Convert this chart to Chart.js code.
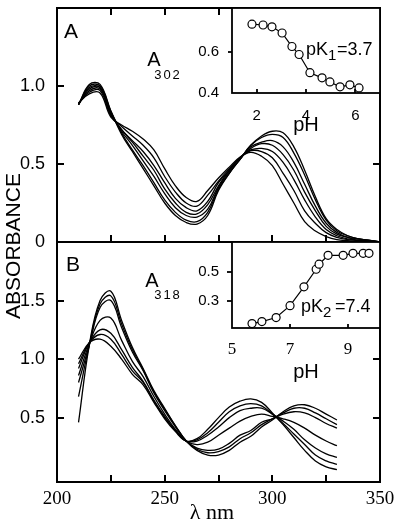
<!DOCTYPE html>
<html>
<head>
<meta charset="utf-8">
<script src="https://cdn.jsdelivr.net/npm/chart.js@4.4.1/dist/chart.umd.min.js"></script>
<style>
  html, body { margin: 0; padding: 0; background: #fff; }
  #wrap { position: relative; width: 400px; height: 526px; overflow: hidden; }
  canvas { position: absolute; }
</style>
</head>
<body>
<div id="wrap">
  <canvas id="mainA" width="400" height="526" style="left:0;top:0"></canvas>
  <canvas id="mainB" width="400" height="526" style="left:0;top:0"></canvas>
  <canvas id="insetA" width="200" height="145" style="left:190px;top:0"></canvas>
  <canvas id="insetB" width="200" height="150" style="left:190px;top:234px"></canvas>
</div>
<script>
// wavelengths (nm)
const wlA = [210,215,220,225,230,235,240,245,250,255,260,265,270,275,280,285,290,295,300,305,310,315,320,325,330,335,340,345,350];
const wlB = [210,215,220,225,230,235,240,245,250,255,260,265,270,275,280,285,290,295,300,305,310,315,320,325,330];

// panel A spectra, low pH -> high pH
const absA1 = [0.88,1.01,1.01,0.84,0.69,0.58,0.47,0.36,0.25,0.17,0.125,0.115,0.17,0.33,0.44,0.53,0.62,0.68,0.71,0.70,0.61,0.46,0.29,0.15,0.08,0.04,0.02,0.01,0.00];
const absA2 = [0.88,1.00,1.00,0.84,0.70,0.59,0.49,0.38,0.27,0.19,0.14,0.13,0.19,0.34,0.44,0.53,0.62,0.67,0.69,0.67,0.57,0.43,0.27,0.14,0.07,0.04,0.02,0.01,0.00];
const absA3 = [0.88,0.99,0.99,0.83,0.71,0.62,0.52,0.42,0.31,0.22,0.17,0.16,0.21,0.35,0.45,0.53,0.61,0.64,0.65,0.61,0.51,0.37,0.23,0.12,0.06,0.03,0.02,0.01,0.00];
const absA4 = [0.88,0.98,0.99,0.82,0.72,0.64,0.55,0.46,0.34,0.25,0.19,0.18,0.24,0.36,0.46,0.54,0.60,0.63,0.62,0.56,0.46,0.32,0.20,0.10,0.05,0.03,0.01,0.01,0.00];
const absA5 = [0.89,0.97,0.98,0.82,0.72,0.65,0.58,0.49,0.38,0.28,0.22,0.20,0.26,0.38,0.46,0.54,0.59,0.60,0.58,0.51,0.40,0.27,0.16,0.08,0.04,0.02,0.01,0.00,0.00];
const absA6 = [0.89,0.96,0.97,0.81,0.74,0.68,0.62,0.54,0.42,0.32,0.25,0.23,0.30,0.39,0.47,0.54,0.585,0.58,0.54,0.44,0.33,0.20,0.12,0.06,0.03,0.015,0.01,0.00,0.00];
const absA7 = [0.89,0.95,0.955,0.80,0.75,0.71,0.66,0.59,0.47,0.36,0.285,0.26,0.33,0.41,0.48,0.545,0.575,0.55,0.49,0.37,0.25,0.13,0.07,0.035,0.015,0.008,0.004,0.00,0.00];

// panel B spectra, low pH -> high pH
const absB1 = [1.00,1.14,1.17,1.11,1.00,0.87,0.78,0.63,0.49,0.38,0.30,0.32,0.40,0.50,0.59,0.64,0.66,0.63,0.54,0.44,0.33,0.22,0.13,0.08,0.055];
const absB2 = [0.96,1.14,1.21,1.17,1.04,0.90,0.80,0.64,0.50,0.39,0.30,0.31,0.37,0.46,0.55,0.60,0.62,0.60,0.53,0.45,0.36,0.27,0.18,0.13,0.10];
const absB3 = [0.92,1.14,1.25,1.22,1.08,0.93,0.81,0.65,0.51,0.39,0.30,0.30,0.35,0.42,0.50,0.56,0.58,0.58,0.53,0.47,0.40,0.31,0.24,0.19,0.16];
const absB4 = [0.86,1.13,1.33,1.35,1.16,0.98,0.85,0.68,0.53,0.40,0.30,0.27,0.29,0.35,0.41,0.47,0.51,0.53,0.51,0.49,0.46,0.41,0.35,0.30,0.26];
const absB5 = [0.80,1.12,1.44,1.50,1.27,1.06,0.90,0.71,0.56,0.42,0.30,0.24,0.22,0.23,0.28,0.35,0.39,0.46,0.49,0.53,0.55,0.54,0.50,0.45,0.41];
const absB6 = [0.68,1.12,1.47,1.54,1.30,1.08,0.91,0.72,0.57,0.43,0.30,0.23,0.20,0.21,0.25,0.32,0.37,0.44,0.49,0.54,0.58,0.58,0.54,0.49,0.44];
const absB7 = [0.46,1.12,1.50,1.58,1.33,1.10,0.92,0.73,0.58,0.43,0.30,0.22,0.18,0.18,0.22,0.29,0.34,0.42,0.48,0.55,0.60,0.61,0.58,0.53,0.48];

// titration insets
const phA  = [1.81,2.26,2.62,3.03,3.43,3.72,4.16,4.65,4.97,5.38,5.78,6.15];
const a302 = [0.736,0.732,0.723,0.693,0.627,0.588,0.499,0.474,0.454,0.430,0.440,0.425];
const phB  = [5.69,6.03,6.52,7.00,7.48,7.90,8.00,8.31,8.83,9.17,9.52,9.72];
const a318 = [0.141,0.155,0.183,0.266,0.397,0.520,0.555,0.617,0.617,0.631,0.631,0.631];

// tick values
const xLabelTicks = [200,250,300,350];
const xMarkTicks  = [225,250,275,300,325];
const yTicksA = [0,0.5,1.0];
const yTicksB = [0.5,1.0,1.5];
const insetATicksX = [2,4,6];
const insetATicksY = [0.4,0.6];
const insetBTicksX = [5,7,9];
const insetBTicksY = [0.3,0.5];

const SANS = 'Liberation Sans';
const SERIF = 'Liberation Serif';
Chart.defaults.font.family = SANS;
Chart.defaults.color = '#000';

// frame, inward/outward tick marks and free text
const framePlugin = {
  id: 'frame',
  beforeDraw(chart, args, o) {
    if (!o.fill) return;
    const a = chart.chartArea, ctx = chart.ctx;
    ctx.save();
    ctx.fillStyle = '#fff';
    ctx.fillRect(a.left, a.top, a.width, a.height);
    ctx.restore();
  },
  afterDraw(chart, args, o) {
    const ctx = chart.ctx, a = chart.chartArea;
    ctx.save();
    ctx.strokeStyle = '#000';
    ctx.lineWidth = o.lw || 2;
    (o.marks || []).forEach(([id, side, vals, len]) => {
      const s = chart.scales[id];
      vals.forEach(v => {
        const p = Math.round(s.getPixelForValue(v));
        ctx.beginPath();
        if (side === 'left')   { ctx.moveTo(a.left, p);  ctx.lineTo(a.left + len, p); }
        if (side === 'right')  { ctx.moveTo(a.right, p); ctx.lineTo(a.right - len, p); }
        if (side === 'top')    { ctx.moveTo(p, a.top);    ctx.lineTo(p, a.top + len); }
        if (side === 'bottom') { ctx.moveTo(p, a.bottom); ctx.lineTo(p, a.bottom - len); }
        ctx.stroke();
      });
    });
    ctx.strokeRect(a.left, a.top, a.width, a.height);
    ctx.fillStyle = '#000';
    (o.texts || []).forEach(t => {
      ctx.save();
      ctx.font = (t.size || 18) + 'px "' + (t.family || SANS) + '"';
      ctx.textAlign = t.align || 'center';
      ctx.textBaseline = t.base || 'middle';
      if (t.spacing) ctx.letterSpacing = t.spacing;
      ctx.translate(t.x, t.y);
      if (t.rot) ctx.rotate(t.rot);
      ctx.fillText(t.text, 0, 0);
      ctx.restore();
    });
    ctx.restore();
  }
};

function spectra(wl, list) {
  return list.map(arr => ({
    data: wl.map((x, i) => ({ x: x, y: arr[i] })),
    borderColor: '#000',
    borderWidth: 1.3,
    pointRadius: 0,
    tension: 0.4,
    fill: false
  }));
}

function fixTicks(vals) {
  return s => { s.ticks = vals.map(v => ({ value: v })); };
}

const baseOpts = {
  responsive: false,
  animation: false,
  events: [],
};

// panel A
new Chart(document.getElementById('mainA'), {
  type: 'line',
  data: { datasets: spectra(wlA, [absA1, absA2, absA3, absA4, absA5, absA6, absA7]) },
  options: Object.assign({}, baseOpts, {
    layout: { padding: { left: 0, top: 8, right: 20, bottom: 284 } },
    scales: {
      x: { type: 'linear', min: 200, max: 350, display: false },
      y: {
        min: 0, max: 1.5,
        afterBuildTicks: fixTicks(yTicksA),
        afterFit: s => { s.width = 57; s.paddingTop = 0; s.paddingBottom = 0; },
        grid: { display: false }, border: { display: false },
        ticks: { font: { size: 18 }, padding: 4, callback: v => v === 0 ? '0' : v.toFixed(1) }
      }
    },
    plugins: {
      legend: { display: false }, tooltip: { enabled: false },
      frame: {
        lw: 2,
        marks: [['y', 'left', [0.5, 1.0], 7], ['y', 'right', [0.5, 1.0], 7],
                ['x', 'top', xMarkTicks, 7], ['x', 'bottom', xMarkTicks, 7]],
        texts: [
          { text: 'ABSORBANCE', x: 14, y: 246, size: 21, rot: -Math.PI / 2 },
          { text: 'A', x: 71, y: 32, size: 21 },
          { text: 'A', x: 154, y: 60, size: 20 },
          { text: '302', x: 168, y: 75, size: 13, spacing: '2px' }
        ]
      }
    }
  }),
  plugins: [framePlugin]
});

// panel B
new Chart(document.getElementById('mainB'), {
  type: 'line',
  data: { datasets: spectra(wlB, [absB1, absB2, absB3, absB4, absB5, absB6, absB7]) },
  options: Object.assign({}, baseOpts, {
    layout: { padding: { left: 0, top: 242, right: 20, bottom: 0 } },
    scales: {
      x: {
        type: 'linear', min: 200, max: 350,
        afterBuildTicks: fixTicks(xLabelTicks),
        afterFit: s => { s.height = 44; s.paddingLeft = 0; s.paddingRight = 0; },
        grid: { display: false }, border: { display: false },
        ticks: { font: { family: SERIF, size: 19, lineHeight: 1 }, padding: 0, maxRotation: 0, autoSkip: false, callback: v => String(v) }
      },
      y: {
        min: -0.05, max: 2.0,
        afterBuildTicks: fixTicks(yTicksB),
        afterFit: s => { s.width = 57; s.paddingTop = 0; s.paddingBottom = 0; },
        grid: { display: false }, border: { display: false },
        ticks: { font: { size: 18 }, padding: 4, callback: v => v.toFixed(1) }
      }
    },
    plugins: {
      legend: { display: false }, tooltip: { enabled: false },
      frame: {
        lw: 2,
        marks: [['y', 'left', yTicksB, 7], ['y', 'right', yTicksB, 7], ['x', 'bottom', xMarkTicks, 7]],
        texts: [
          { text: 'B', x: 73, y: 265, size: 21 },
          { text: 'A', x: 152, y: 281, size: 20 },
          { text: '318', x: 168, y: 295, size: 13, spacing: '2px' },
          { text: 'λ nm', x: 212, y: 513, size: 22, family: SERIF }
        ]
      }
    }
  }),
  plugins: [framePlugin]
});

function insetChart(id, xs, ys, xr, yr, ticksX, ticksY, xFont, xPad, xHeight, titlePad, marks, texts) {
  new Chart(document.getElementById(id), {
    type: 'line',
    data: { datasets: [{
      data: xs.map((x, i) => ({ x: x, y: ys[i] })),
      borderColor: '#000', borderWidth: 1.2, tension: 0,
      pointRadius: 4, pointBorderWidth: 1.2, pointBackgroundColor: '#fff', pointBorderColor: '#000',
      clip: 8
    }] },
    options: Object.assign({}, baseOpts, {
      layout: { padding: { left: 0, top: 8, right: 10, bottom: 0 } },
      scales: {
        x: {
          type: 'linear', min: xr[0], max: xr[1],
          afterBuildTicks: fixTicks(ticksX),
          afterFit: s => { s.height = xHeight; s.paddingLeft = 0; s.paddingRight = 0; },
          grid: { display: false }, border: { display: false },
          ticks: { font: xFont, padding: xPad, maxRotation: 0, autoSkip: false, callback: v => String(v) },
          title: { display: true, text: 'pH', font: { size: 20 }, padding: { top: 0, bottom: titlePad } }
        },
        y: {
          min: yr[0], max: yr[1],
          afterBuildTicks: fixTicks(ticksY),
          afterFit: s => { s.width = 42; s.paddingTop = 0; s.paddingBottom = 0; },
          grid: { display: false }, border: { display: false },
          ticks: { font: { size: 15 }, padding: 5, callback: v => v.toFixed(1) }
        }
      },
      plugins: {
        legend: { display: false }, tooltip: { enabled: false },
        frame: { lw: 1.8, fill: true, marks: marks, texts: texts }
      }
    }),
    plugins: [framePlugin]
  });
}

insetChart('insetA', phA, a302, [1, 7], [0.4, 0.815], insetATicksX, insetATicksY,
  { size: 15, lineHeight: 1 }, 7, 52, 8,
  [['y', 'left', [0.6], -4], ['x', 'bottom', insetATicksX, 4]],
  [
    { text: 'pK', x: 116, y: 55, size: 18, align: 'left', base: 'alphabetic' },
    { text: '1', x: 138, y: 60, size: 15, align: 'left', base: 'alphabetic' },
    { text: '=3.7', x: 147, y: 55, size: 18, align: 'left', base: 'alphabetic' }
  ]);

insetChart('insetB', phB, a318, [5, 10.1], [0.11, 0.71], insetBTicksX, insetBTicksY,
  { family: SERIF, size: 17, lineHeight: 1 }, 5, 56, 0,
  [['y', 'left', insetBTicksY, -5], ['x', 'bottom', [7, 9], 4]],
  [
    { text: 'pK', x: 111, y: 78, size: 18, align: 'left', base: 'alphabetic' },
    { text: '2', x: 133, y: 83, size: 15, align: 'left', base: 'alphabetic' },
    { text: '=7.4', x: 145, y: 78, size: 18, align: 'left', base: 'alphabetic' }
  ]);
</script>
</body>
</html>
